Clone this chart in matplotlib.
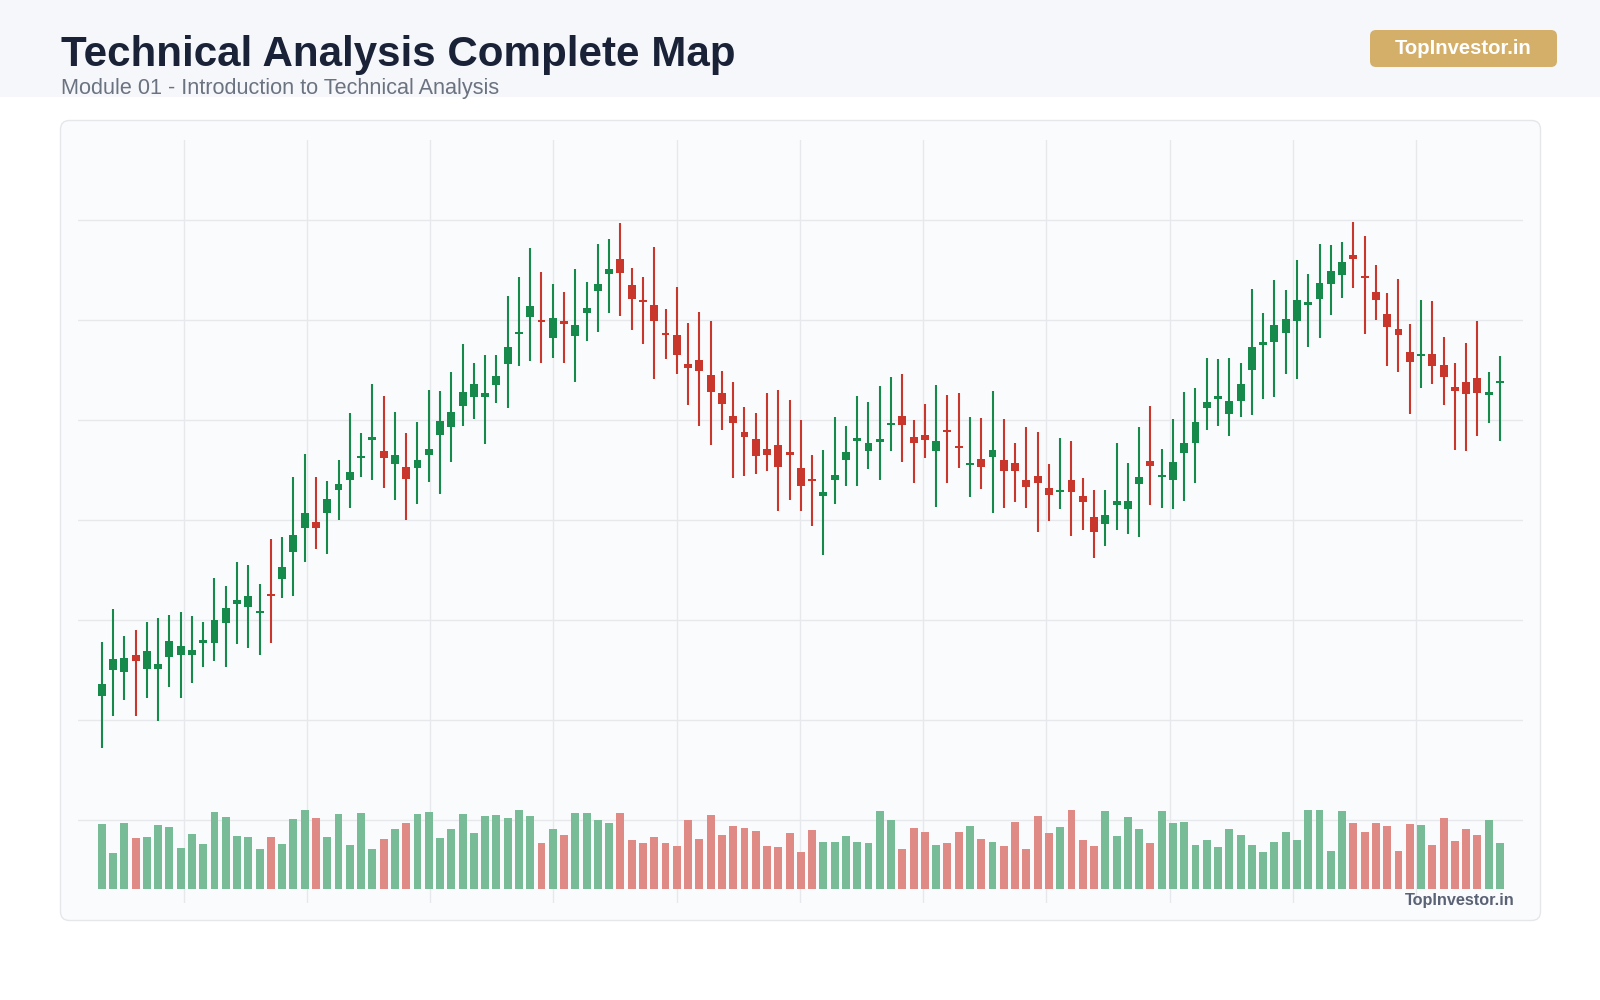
import numpy as np
import matplotlib

matplotlib.use('Agg')
import matplotlib.pyplot as plt
from matplotlib.patches import FancyBboxPatch, Rectangle

plt.rcParams['font.family'] = ['Liberation Sans', 'DejaVu Sans']

# 蜡烛图数据 (开/高/低/收)
opens = [102.4, 105.0, 104.8, 106.5, 105.1, 105.1, 106.3, 106.5, 106.5, 107.7,
         107.7, 109.7, 111.6, 111.3, 110.7, 112.5, 114.1, 116.8, 119.2, 119.8,
         120.75, 123.0, 124.0, 126.2, 128.0, 126.9, 125.6, 125.3, 125.2, 126.5,
         128.5, 129.3, 131.4, 132.3, 132.3, 133.5, 135.6, 138.6, 140.3, 139.9,
         138.2, 139.9, 138.4, 140.75, 142.9, 144.6, 146.1, 143.5, 142.0, 141.5,
         138.7, 138.5, 135.6, 136.0, 134.5, 132.7, 130.35, 128.8, 128.1, 127.1,
         127.5, 126.7, 125.2, 124.1, 122.4, 124.05, 126.0, 127.9, 126.9, 127.8,
         129.5, 130.4, 128.3, 128.5, 126.9, 129.0, 127.3, 125.5, 126.1, 126.3,
         126.0, 125.75, 124.05, 124.45, 123.25, 122.8, 124.05, 122.4, 120.3, 119.6,
         121.55, 121.1, 123.65, 125.9, 124.3, 124.05, 126.7, 127.75, 131.2, 132.1,
         130.65, 131.9, 135.0, 137.5, 137.8, 138.7, 139.9, 141.5, 142.1, 143.6,
         144.5, 146.5, 144.4, 142.85, 140.6, 139.05, 136.8, 136.4, 136.6, 135.5,
         133.3, 133.8, 134.2, 132.5, 133.7]
highs = [107.8, 111.1, 108.4, 109.0, 109.8, 110.2, 110.5, 110.8, 110.4, 109.8,
         114.2, 113.4, 115.8, 115.5, 113.6, 118.1, 118.3, 124.3, 126.6, 124.3,
         123.9, 126.0, 130.7, 128.7, 133.65, 132.4, 130.8, 128.7, 129.8, 133.0,
         132.9, 134.8, 137.6, 135.7, 136.5, 136.5, 142.4, 144.3, 147.2, 144.8,
         143.6, 142.8, 145.1, 143.8, 147.6, 148.1, 149.7, 145.2, 144.3, 147.3,
         141.1, 143.3, 139.7, 140.8, 139.9, 134.9, 133.8, 131.3, 130.7, 132.7,
         133.0, 132.0, 130.0, 126.5, 127.0, 130.3, 129.4, 132.45, 131.8, 133.4,
         134.3, 134.6, 130.0, 131.6, 133.5, 132.5, 132.7, 130.3, 130.2, 132.9,
         130.1, 127.7, 129.3, 128.8, 125.6, 128.2, 127.9, 124.2, 123.0, 123.0,
         127.7, 125.7, 129.3, 131.4, 127.1, 130.1, 132.8, 133.2, 136.2, 136.1,
         136.2, 135.7, 143.1, 140.7, 144.0, 143.0, 146.0, 144.6, 147.6, 147.5,
         147.8, 149.8, 148.4, 145.5, 142.7, 144.1, 139.6, 142.0, 141.9, 138.3,
         135.7, 137.7, 139.9, 134.8, 136.4]
lows = [97.2, 100.4, 102.0, 100.4, 102.2, 99.9, 103.3, 102.2, 103.7, 105.3,
        105.9, 105.3, 107.6, 107.2, 106.5, 107.7, 112.2, 112.4, 115.8, 117.1,
        116.6, 120.0, 121.2, 124.3, 124.05, 123.2, 122.0, 120.0, 121.6, 123.8,
        122.6, 125.8, 129.4, 130.1, 127.6, 131.7, 131.2, 135.4, 135.9, 135.7,
        136.2, 135.7, 133.8, 137.9, 138.8, 140.75, 140.4, 139.0, 137.6, 134.1,
        136.15, 134.6, 131.55, 129.4, 127.5, 129.05, 124.2, 124.4, 124.6, 124.9,
        120.9, 122.0, 120.9, 119.4, 116.5, 121.6, 123.4, 123.4, 125.1, 124.0,
        126.9, 125.8, 123.7, 126.2, 121.3, 123.7, 125.2, 122.3, 123.1, 120.7,
        121.2, 121.8, 121.2, 118.8, 119.9, 121.1, 118.4, 119.0, 116.2, 117.45,
        119.05, 118.6, 118.3, 121.5, 121.2, 121.1, 121.95, 123.7, 129.05, 129.45,
        128.4, 130.3, 130.5, 132.1, 132.35, 134.6, 134.1, 137.35, 138.25, 140.5,
        142.2, 143.25, 138.65, 140.0, 135.4, 134.85, 130.65, 133.25, 133.65, 131.5,
        127.0, 126.9, 128.4, 129.7, 127.9]
closes = [103.6, 106.1, 106.2, 105.9, 106.9, 105.6, 107.9, 107.4, 107.0, 108.0,
          110.0, 111.2, 112.0, 112.4, 110.9, 112.4, 115.3, 118.5, 120.7, 119.2,
          122.1, 123.6, 124.8, 126.3, 128.3, 126.2, 126.5, 124.1, 126.0, 127.1,
          129.9, 130.8, 132.85, 133.6, 132.7, 134.4, 137.3, 138.7, 141.4, 139.8,
          140.2, 139.6, 139.5, 141.2, 143.65, 145.1, 144.7, 142.1, 141.8, 139.9,
          138.5, 136.5, 135.2, 134.9, 132.8, 131.6, 129.7, 128.3, 126.4, 126.5,
          125.35, 126.55, 123.4, 123.9, 122.8, 124.45, 126.8, 128.2, 127.75, 127.9,
          129.6, 129.5, 127.75, 128.0, 127.9, 128.8, 127.2, 125.7, 125.35, 127.0,
          124.95, 124.95, 123.3, 123.7, 122.5, 122.9, 122.85, 121.8, 118.8, 120.5,
          121.9, 121.9, 124.3, 125.4, 124.4, 125.8, 127.7, 129.8, 131.8, 132.4,
          131.9, 133.65, 137.3, 137.85, 139.5, 140.1, 142.0, 141.8, 143.65, 144.9,
          145.8, 146.15, 144.2, 142.0, 139.3, 138.5, 135.8, 136.5, 135.4, 134.3,
          132.9, 132.6, 132.7, 132.85, 133.9]
# 成交量（千股）
volumes = [1450, 800, 1470, 1140, 1160, 1430, 1390, 910, 1230, 1000,
           1720, 1610, 1180, 1160, 890, 1160, 1000, 1560, 1770, 1590,
           1160, 1680, 980, 1700, 890, 1120, 1340, 1470, 1680, 1720,
           1140, 1340, 1680, 1250, 1630, 1650, 1590, 1770, 1630, 1030,
           1340, 1210, 1700, 1700, 1540, 1470, 1700, 1090, 1030, 1160,
           1030, 960, 1540, 1120, 1650, 1210, 1410, 1360, 1300, 960,
           940, 1250, 830, 1320, 1050, 1050, 1180, 1050, 1030, 1740,
           1540, 890, 1360, 1270, 980, 1030, 1270, 1410, 1120, 1050,
           960, 1500, 890, 1630, 1250, 1390, 1770, 1090, 960, 1740,
           1180, 1610, 1340, 1030, 1740, 1470, 1500, 980, 1090, 940,
           1340, 1210, 980, 830, 1050, 1270, 1090, 1770, 1770, 850,
           1740, 1470, 1270, 1470, 1410, 850, 1450, 1430, 980, 1590,
           1070, 1340, 1210, 1540, 1030]

price_grid = [90, 100, 110, 120, 130, 140, 150]
time_grid = np.arange(7.27, 120, 10.93)

UP, DOWN = '#168a4a', '#c9362c'
UP_VOL, DOWN_VOL = '#78bb97', '#df8a84'

o = np.array(opens)
h = np.array(highs)
l = np.array(lows)
c = np.array(closes)
v = np.array(volumes)
x = np.arange(len(o))
up = c >= o

fig = plt.figure(figsize=(16, 10), dpi=100, facecolor='white')

# 背景画布（像素坐标）
bg = fig.add_axes([0, 0, 1, 1])
bg.set_xlim(0, 1600)
bg.set_ylim(1000, 0)
bg.axis('off')
bg.add_patch(Rectangle((0, 0), 1600, 97, color='#f5f7fa', lw=0))
bg.add_patch(FancyBboxPatch((60.5, 120.5), 1480, 800, boxstyle='round,pad=0,rounding_size=9',
                            facecolor='#fafbfd', edgecolor='#e5e7eb', lw=1))
bg.add_patch(FancyBboxPatch((1370, 30), 187, 37, boxstyle='round,pad=0,rounding_size=6',
                            facecolor='#d4af6a', edgecolor='none'))
bg.text(61, 66, 'Technical Analysis Complete Map', fontsize=30.3, fontweight='bold',
        color='#1a2238', va='baseline', ha='left')
bg.text(61, 94, 'Module 01 - Introduction to Technical Analysis', fontsize=15.6,
        color='#6b7280', va='baseline', ha='left')
bg.text(1463, 49, 'TopInvestor.in', fontsize=14.6, fontweight='bold', color='white',
        va='center', ha='center')

# 主图
ax = fig.add_axes([77.6 / 1600, 97 / 1000, 1444.9 / 1600, 763.2 / 1000])
ax.patch.set_visible(False)
for s in ax.spines.values():
    s.set_visible(False)
ax.set_xlim(-2.14, 126.0)
ax.set_ylim(81.7, 158.02)
ax.set_yticks(price_grid)
ax.set_xticks(time_grid)
ax.tick_params(length=0, labelleft=False, labelbottom=False)
ax.grid(True, color='#e6e8ec', lw=1)
ax.set_axisbelow(True)

colors = np.where(up, UP, DOWN)
ax.vlines(x, l, h, colors=colors, lw=1.5, zorder=3)
body = np.maximum(np.abs(c - o), 0.25)
ax.bar(x, body, bottom=np.minimum(o, c), width=0.7, color=colors, zorder=4)

# 成交量
ax2 = ax.twinx()
ax2.set_ylim(-313.6, 16783)
ax2.axis('off')
ax2.bar(x, v, width=0.7, color=np.where(up, UP_VOL, DOWN_VOL))

# 水印
fig.text(1515 / 1600, 1 - 901 / 1000, 'TopInvestor.in', fontsize=11.7, fontweight='bold',
         color='#5a6275', va='center', ha='right')

fig.savefig('out.png', dpi=100, facecolor='white')
